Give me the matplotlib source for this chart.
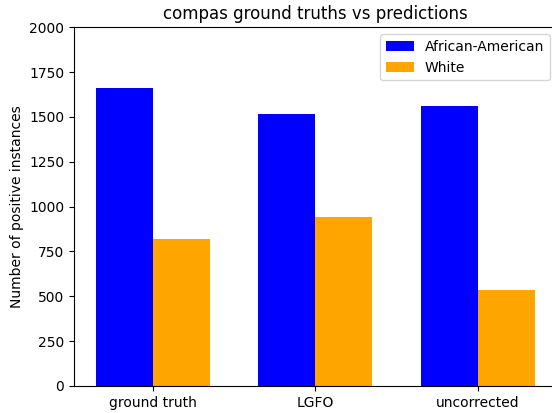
import numpy as np
import matplotlib
matplotlib.use("Agg")
import matplotlib.pyplot as plt

# values
categories = ["ground truth", "LGFO", "uncorrected"]
african_american = [1661, 1517, 1561]
white = [820, 942, 535]

x = np.arange(len(categories))
width = 0.35

fig = plt.figure(figsize=(5.52, 4.13), dpi=100)
# the reference is cropped a little on the right, so the axes run past the edge
ax = fig.add_axes([0.134, 0.0654, 0.8743, 0.8685])

ax.bar(x - width / 2, african_american, width, color="blue", label="African-American")
ax.bar(x + width / 2, white, width, color="orange", label="White")

ax.set_ylim(0, 2000)
ax.set_yticks(np.arange(0, 2001, 250))
ax.set_xticks(x)
ax.set_xticklabels(categories)
ax.set_ylabel("Number of positive instances")
ax.set_title("compas ground truths vs predictions")
ax.legend(loc="upper right")

fig.savefig("out.png", dpi=100)
